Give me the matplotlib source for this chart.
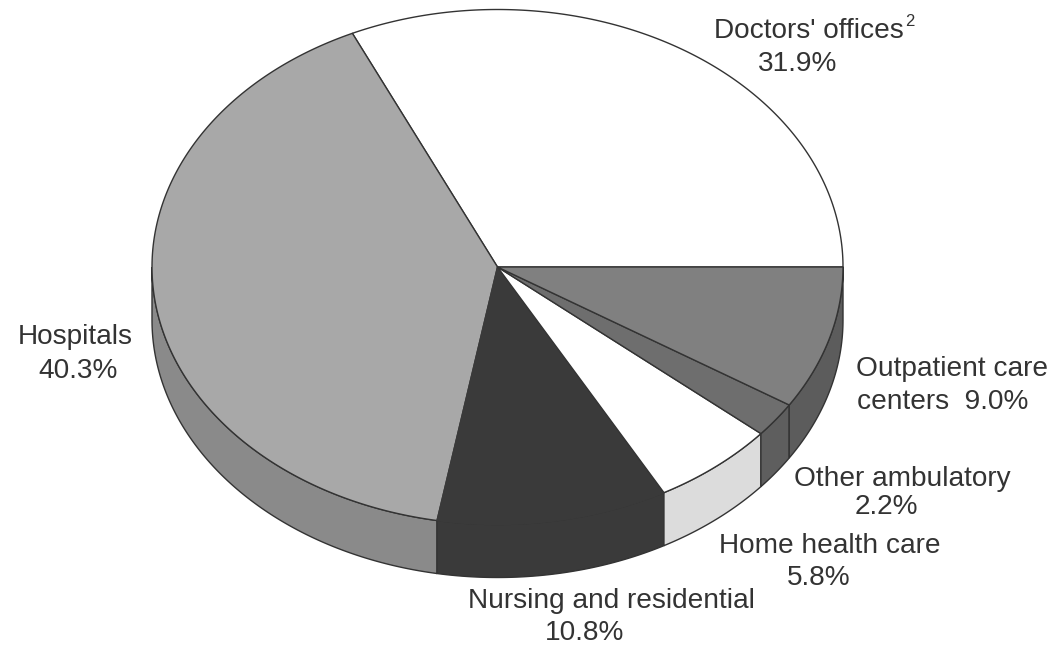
import numpy as np
import matplotlib
matplotlib.use("Agg")
import matplotlib.pyplot as plt
from matplotlib.patches import Polygon

categories = ["Doctors' offices", "Hospitals", "Nursing and residential",
              "Home health care", "Other ambulatory", "Outpatient care centers"]
shares = [31.9, 40.3, 10.8, 5.8, 2.2, 9.0]
top_colors = ["#ffffff", "#a8a8a8", "#3a3a3a", "#ffffff", "#6e6e6e", "#808080"]
side_colors = ["#ffffff", "#8a8a8a", "#3a3a3a", "#dcdcdc", "#5e5e5e", "#5c5c5c"]
label_lines = [("Doctors' offices", 809, 31), ("31.9%", 798, 64),
               ("Hospitals", 75, 337), ("40.3%", 78, 371),
               ("Nursing and residential", 611, 601), ("10.8%", 585, 633),
               ("Home health care", 830, 546), ("5.8%", 819, 578),
               ("Other ambulatory", 902, 479), ("2.2%", 886, 507),
               ("Outpatient care", 952, 369), ("centers  9.0%", 943, 402)]

W, H = 1054, 646
CX, CY, RX, RY, DEPTH = 497.5, 267, 345.5, 257.5, 53
EDGE = "#333333"
LW = 1.0

fig = plt.figure(figsize=(W / 100, H / 100), dpi=100)
ax = fig.add_axes([0, 0, 1, 1])
ax.set_xlim(0, W)
ax.set_ylim(H, 0)
ax.axis("off")


def arc(a0, a1, dy=0):
    t = np.radians(np.linspace(a0, a1, max(int(abs(a1 - a0)) * 2, 2) + 1))
    return np.column_stack([CX + RX * np.cos(t), CY - RY * np.sin(t) + dy])


bounds = np.concatenate([[0], np.cumsum(shares)]) / sum(shares) * 360

# Outer wall of the visible front half
for a0, a1, c in zip(bounds[:-1], bounds[1:], side_colors):
    lo, hi = max(a0, 180), min(a1, 360)
    if hi <= lo:
        continue
    pts = np.vstack([arc(lo, hi), arc(hi, lo, DEPTH)])
    ax.add_patch(Polygon(pts, closed=True, facecolor=c, edgecolor=EDGE, lw=LW, zorder=2))

# Top face
for a0, a1, c in zip(bounds[:-1], bounds[1:], top_colors):
    pts = np.vstack([[CX, CY], arc(a0, a1)])
    ax.add_patch(Polygon(pts, closed=True, facecolor=c,
                         edgecolor=c if c == "#3a3a3a" else EDGE, lw=LW,
                         joinstyle="round", zorder=3))

font = ["Liberation Sans", "DejaVu Sans"]
for s, x, y in label_lines:
    ax.text(x, y, s, ha="center", va="center", fontsize=20.2, color="#333333", family=font)
ax.text(905, 21, "2", ha="left", va="center", fontsize=12, color="#333333", family=font)

fig.savefig("out.png", dpi=100, facecolor="white")
